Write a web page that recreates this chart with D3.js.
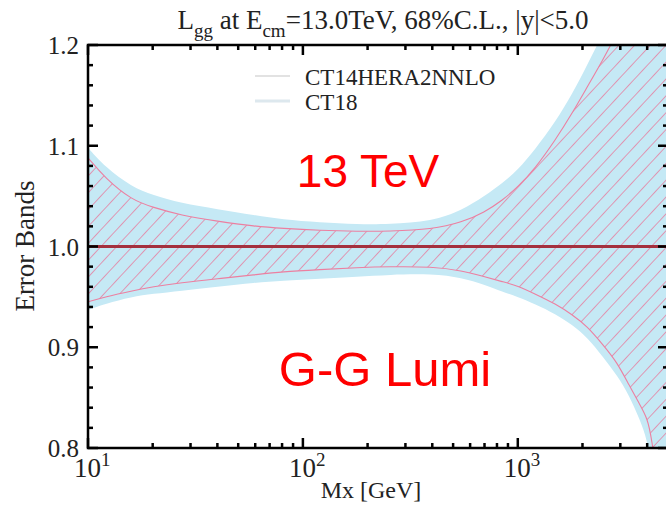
<!DOCTYPE html>
<html><head><meta charset="utf-8">
<script src="https://cdn.jsdelivr.net/npm/d3@7"></script>
<style>html,body{margin:0;padding:0;background:#fff;}svg{display:block;}</style>
</head><body>
<svg id="c" width="666" height="506"></svg>
<script>
// ---- data ----
const mass = [10,12,16,20,27,40,60,80,120,180,250,400,550,700,850,1000,1200,1500,1800,2100,2500,2900,3300,3700,4000,4200,4500,5000];
const ct14Hi = [1.088,1.068,1.046,1.039,1.031,1.025,1.020,1.018,1.016,1.015,1.015,1.017,1.024,1.034,1.046,1.059,1.077,1.106,1.133,1.158,1.186,1.212,1.238,1.262,1.280,1.292,1.310,1.340];
const ct14Lo = [0.945,0.950,0.956,0.960,0.964,0.968,0.972,0.975,0.977,0.979,0.980,0.980,0.976,0.970,0.965,0.961,0.953,0.943,0.932,0.921,0.902,0.885,0.862,0.843,0.830,0.810,0.760,0.700];
const ct18Hi = [1.098,1.079,1.059,1.051,1.043,1.037,1.031,1.027,1.024,1.022,1.022,1.025,1.036,1.050,1.063,1.076,1.096,1.124,1.152,1.180,1.212,1.240,1.266,1.290,1.308,1.320,1.342,1.372];
const ct18Lo = [0.937,0.943,0.950,0.953,0.956,0.960,0.964,0.966,0.968,0.970,0.972,0.973,0.969,0.962,0.955,0.950,0.943,0.933,0.922,0.910,0.890,0.872,0.852,0.828,0.808,0.780,0.740,0.680];
const central = [1.0, 1.0];
const centralMass = [10, 5000];
const yTickLabels = ["0.8","0.9","1.0","1.1","1.2"];
const yMajor = [0.8,0.9,1.0,1.1,1.2];
const xMajor = [10,100,1000];
const xMajorExp = ["1","2","3"];
const legendNames = ["CT14HERA2NNLO","CT18"];

// ---- layout ----
const L = 88, R = 668, T = 45, B = 448;
const svg = d3.select("#c");
const x = d3.scaleLog().domain([10, 5000]).range([L, R]);
const y = d3.scaleLinear().domain([0.8, 1.2]).range([B, T]);

const defs = svg.append("defs");
defs.append("clipPath").attr("id","clip").append("rect")
  .attr("x", L).attr("y", T).attr("width", R - L).attr("height", B - T);
const pat = defs.append("pattern").attr("id","hatch").attr("patternUnits","userSpaceOnUse")
  .attr("width", 11.5).attr("height", 11.5).attr("patternTransform","rotate(43)");
pat.append("line").attr("x1",0).attr("y1",-2).attr("x2",0).attr("y2",14)
  .attr("stroke","#ec6a90").attr("stroke-width",1.3);

const g = svg.append("g").attr("clip-path","url(#clip)");
const rows = mass.map((m,i)=>({m, a:ct14Hi[i], b:ct14Lo[i], c:ct18Hi[i], d:ct18Lo[i]}));
const curve = d3.curveBasis;

// CT18 band (light blue)
g.append("path").datum(rows)
  .attr("d", d3.area().x(d=>x(d.m)).y0(d=>y(d.d)).y1(d=>y(d.c)).curve(curve))
  .attr("fill","#c5e9f5");
// CT14 hatched band
g.append("path").datum(rows)
  .attr("d", d3.area().x(d=>x(d.m)).y0(d=>y(d.b)).y1(d=>y(d.a)).curve(curve))
  .attr("fill","url(#hatch)");
["a","b"].forEach(k=>{
  g.append("path").datum(rows)
    .attr("d", d3.line().x(d=>x(d.m)).y(d=>y(d[k])).curve(curve))
    .attr("fill","none").attr("stroke","#ec7fa0").attr("stroke-width",1.1);
});
// central line
g.append("path").datum(centralMass.map((m,i)=>({m, v:central[i]})))
  .attr("d", d3.line().x(d=>x(d.m)).y(d=>y(d.v)))
  .attr("stroke","#a4303e").attr("stroke-width",3).attr("fill","none");

// ---- frame and ticks ----
const ax = svg.append("g").attr("stroke","#000");
const yTicks = d3.range(0.8, 1.2001, 0.02);
yTicks.forEach(v=>{
  const major = yMajor.some(t=>Math.abs(t-v)<1e-6);
  const len = major ? 10 : 5;
  ax.append("line").attr("x1",L).attr("x2",L+len).attr("y1",y(v)).attr("y2",y(v)).attr("stroke-width",2.5);
  ax.append("line").attr("x1",R).attr("x2",R-len).attr("y1",y(v)).attr("y2",y(v)).attr("stroke-width",2.5);
});
const xTicks = [];
[10,100,1000].forEach(d=>{for(let k=1;k<10;k++){const v=d*k; if(v<=5000) xTicks.push(v);} });
xTicks.forEach(v=>{
  const major = xMajor.includes(v);
  const len = major ? 10 : 5;
  ax.append("line").attr("x1",x(v)).attr("x2",x(v)).attr("y1",B).attr("y2",B-len).attr("stroke-width",2.5);
  ax.append("line").attr("x1",x(v)).attr("x2",x(v)).attr("y1",T).attr("y2",T+len).attr("stroke-width",2.5);
});
svg.append("rect").attr("x",L).attr("y",T).attr("width",R-L).attr("height",B-T)
  .attr("fill","none").attr("stroke","#000").attr("stroke-width",2.5);

const serif = "'Liberation Serif','Times New Roman',Times,serif";
// y tick labels
yMajor.forEach((v,i)=>{
  svg.append("text").attr("x",L-9).attr("y",y(v)+9).attr("text-anchor","end")
    .attr("font-family",serif).attr("font-size",25).attr("fill","#222").text(yTickLabels[i]);
});
// x tick labels 10^n
xMajor.forEach((v,i)=>{
  const t = svg.append("text").attr("x",x(v)-14).attr("y",477)
    .attr("font-family",serif).attr("font-size",27).attr("fill","#222");
  t.append("tspan").text("10");
  t.append("tspan").attr("dy",-11).attr("font-size",19).text(xMajorExp[i]);
});
// axis titles
svg.append("text").attr("x",371).attr("y",498).attr("text-anchor","middle")
  .attr("font-family",serif).attr("font-size",24).attr("fill","#222").text("Mx [GeV]");
svg.append("text").attr("transform","translate(34,246) rotate(-90)").attr("text-anchor","middle")
  .attr("font-family",serif).attr("font-size",27).attr("fill","#222").text("Error Bands");
// chart title
const tt = svg.append("text").attr("x",383).attr("y",29).attr("text-anchor","middle")
  .attr("font-family",serif).attr("font-size",27).attr("fill","#222");
tt.append("tspan").text("L");
tt.append("tspan").attr("dy",8).attr("font-size",19).text("gg");
tt.append("tspan").attr("dy",-8).text(" at E");
tt.append("tspan").attr("dy",8).attr("font-size",19).text("cm");
tt.append("tspan").attr("dy",-8).text("=13.0TeV, 68%C.L., |y|<5.0");

// legend
svg.append("line").attr("x1",255).attr("x2",290).attr("y1",76).attr("y2",76)
  .attr("stroke","#d8d8d8").attr("stroke-width",1.5);
svg.append("line").attr("x1",255).attr("x2",290).attr("y1",101).attr("y2",101)
  .attr("stroke","#dde8ee").attr("stroke-width",3);
legendNames.forEach((n,i)=>{
  svg.append("text").attr("x",305).attr("y",85+i*25)
    .attr("font-family",serif).attr("font-size",23).attr("fill","#222").text(n);
});

// red annotations
const sans = "'Liberation Sans',Arial,Helvetica,sans-serif";
svg.append("text").attr("x",368).attr("y",187).attr("text-anchor","middle")
  .attr("font-family",sans).attr("font-size",46).attr("fill","#ff0000").text("13 TeV");
svg.append("text").attr("x",385).attr("y",386).attr("text-anchor","middle")
  .attr("font-family",sans).attr("font-size",49).attr("fill","#ff0000").text("G-G Lumi");
</script>
</body></html>
